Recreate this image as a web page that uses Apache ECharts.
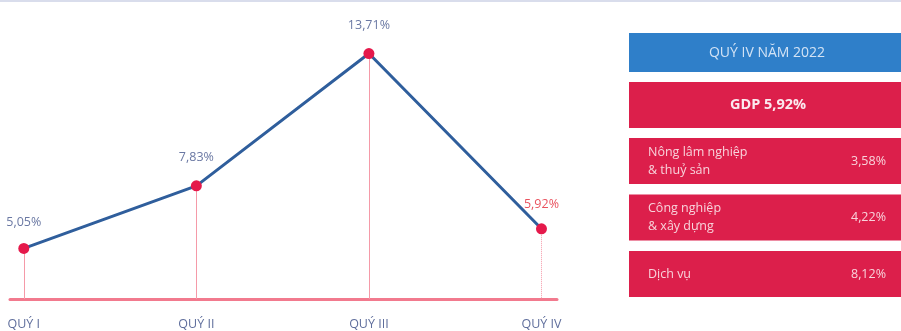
<!DOCTYPE html>
<html>
<head>
<meta charset="utf-8">
<script src="https://cdn.jsdelivr.net/npm/echarts@6/dist/echarts.min.js"></script>
<style>
html,body{margin:0;padding:0;background:#fff;}
#chart{width:901px;height:331px;}
</style>
</head>
<body>
<div id="chart"></div>
<script>
// ---- data ----
const categories = ['QUÝ I', 'QUÝ II', 'QUÝ III', 'QUÝ IV'];
const gdpGrowth = [5.05, 7.83, 13.71, 5.92];
const panelTitle = 'QUÝ IV NĂM 2022';
const panelGdpLabel = 'GDP';
const sectorNames = ['Nông lâm nghiệp\n& thuỷ sản', 'Công nghiệp\n& xây dựng', 'Dịch vụ'];
const sectorGrowth = [3.58, 4.22, 8.12];

// ---- helpers ----
const fmt = v => v.toFixed(2).replace('.', ',') + '%';
const yMin = 2.8, yMax = 15.2;
const last = gdpGrowth.length - 1;
const FONT = '"Open Sans", Lato, sans-serif';

const chart = echarts.init(document.getElementById('chart'), null, {renderer: 'canvas'});

// right panel graphics
const panelX = 629, panelW = 272, panelCx = panelX + panelW / 2;
const red = '#dc1f4b', blue = '#2f7fc9';
const graphics = [
  {type: 'rect', shape: {x: 0, y: 0, width: 901, height: 2}, style: {fill: '#d9ddec'}, silent: true},
  {type: 'rect', shape: {x: panelX, y: 33, width: panelW, height: 39}, style: {fill: blue}, silent: true},
  {type: 'text', x: panelCx + 2, y: 53, style: {text: panelTitle, textAlign: 'center', textVerticalAlign: 'middle', fontSize: 14, fontFamily: FONT, fill: '#d3e3f5'}, silent: true},
  {type: 'rect', shape: {x: panelX, y: 82, width: panelW, height: 46}, style: {fill: red}, silent: true},
  {type: 'text', x: panelCx + 3, y: 105, style: {text: panelGdpLabel + ' ' + fmt(gdpGrowth[last]), textAlign: 'center', textVerticalAlign: 'middle', fontSize: 14.5, fontWeight: 'bold', fontFamily: FONT, fill: '#fbeaef'}, silent: true}
];
sectorNames.forEach((name, i) => {
  const top = 138 + i * 56.5;
  graphics.push({type: 'rect', shape: {x: panelX, y: top, width: panelW, height: 46}, style: {fill: red}, silent: true});
  graphics.push({type: 'text', x: 648, y: top + 23, style: {text: name, textAlign: 'left', textVerticalAlign: 'middle', fontSize: 12.5, lineHeight: 18, fontFamily: FONT, fill: '#f8d3db'}, silent: true});
  graphics.push({type: 'text', x: 886, y: top + 23, style: {text: fmt(sectorGrowth[i]), textAlign: 'right', textVerticalAlign: 'middle', fontSize: 12.5, fontFamily: FONT, fill: '#f8d3db'}, silent: true});
});

const option = {
  animation: false,
  backgroundColor: '#fff',
  grid: {left: 10, right: 344, top: 20, bottom: 32},
  xAxis: {
    type: 'value', min: -0.08, max: 3.09,
    splitLine: {show: false},
    axisTick: {show: false},
    axisLine: {show: true, onZero: false, lineStyle: {color: '#f27a8e', width: 3}},
    axisLabel: {
      customValues: categories.map((c, i) => i),
      formatter: v => categories[Math.round(v)],
      color: '#5f6e9c', fontSize: 12.5, fontFamily: FONT, margin: 19
    }
  },
  yAxis: {type: 'value', min: yMin, max: yMax, show: false},
  graphic: graphics,
  series: [{
    type: 'line',
    symbol: 'circle', symbolSize: 11,
    lineStyle: {color: '#2f5e9c', width: 3},
    itemStyle: {color: '#e5194b'},
    z: 3,
    label: {
      show: true, position: 'top', distance: 16,
      fontSize: 12.5, fontFamily: FONT,
      formatter: p => fmt(p.value[1]),
      color: '#6a78a3'
    },
    labelLayout: {hideOverlap: false},
    markLine: {
      silent: true, symbol: ['none', 'none'], label: {show: false},
      animation: false, z: 1,
      lineStyle: {color: '#f59aa8', width: 1, type: 'solid', opacity: 1},
      emphasis: {disabled: true},
      data: gdpGrowth.map((v, i) => [
        {coord: [i, v], lineStyle: {color: '#f59aa8', width: 1, type: i === last ? 'dotted' : 'solid'}},
        {coord: [i, yMin]}
      ])
    },
    data: gdpGrowth.map((v, i) => {
      const item = {value: [i, v]};
      if (i === last) item.label = {color: '#e9525e', distance: 12};
      if (i === 0) item.label = {offset: [7, 0], distance: 14};
      return item;
    })
  }]
};
chart.setOption(option);
</script>
</body>
</html>
